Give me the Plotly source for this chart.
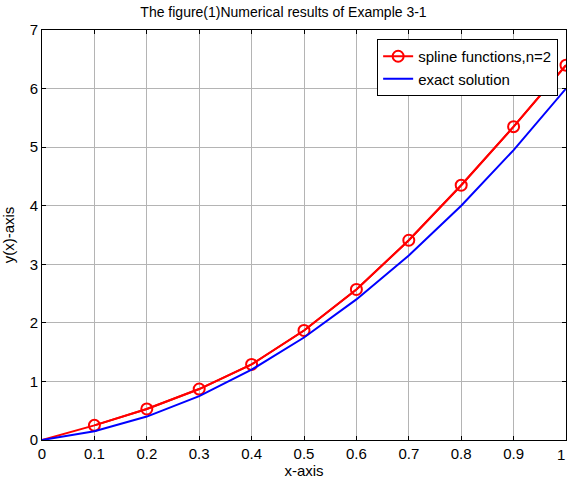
import plotly.graph_objects as go

x_vals = [0, 0.1, 0.2, 0.3, 0.4, 0.5, 0.6, 0.7, 0.8, 0.9, 1.0]
spline_vals = [0, 0.25, 0.53, 0.87, 1.29, 1.87, 2.57, 3.41, 4.35, 5.35, 6.40]
exact_vals = [0, 0.15, 0.40, 0.75, 1.20, 1.75, 2.40, 3.15, 4.00, 4.95, 6.00]
x_ticks = [0, 0.1, 0.2, 0.3, 0.4, 0.5, 0.6, 0.7, 0.8, 0.9, 1]
x_tick_text = ["0", "0.1", "0.2", "0.3", "0.4", "0.5", "0.6", "0.7", "0.8", "0.9", "1"]
y_ticks = [0, 1, 2, 3, 4, 5, 6, 7]

FONT = "Liberation Sans, Arial, sans-serif"

fig = go.Figure()
# full red line (including the origin, which has no marker in the reference)
fig.add_trace(go.Scatter(
    x=x_vals, y=spline_vals, mode="lines", showlegend=False,
    line=dict(color="#ff0000", width=2), hoverinfo="skip",
))
fig.add_trace(go.Scatter(
    x=x_vals[1:], y=spline_vals[1:], mode="lines+markers", name="spline functions,n=2",
    line=dict(color="#ff0000", width=2),
    marker=dict(symbol="circle-open", size=11, color="#ff0000", line=dict(width=2)),
    cliponaxis=True,
))
fig.add_trace(go.Scatter(
    x=x_vals, y=exact_vals, mode="lines", name="exact solution",
    line=dict(color="#0000ff", width=2),
))

axis_common = dict(
    showline=True, linecolor="black", linewidth=1, mirror="ticks",
    ticks="inside", ticklen=4, tickcolor="black",
    showgrid=True, gridcolor="#b4b4b4", gridwidth=1,
    zeroline=False, automargin=False,
    tickfont=dict(family=FONT, size=15, color="black"),
)

fig.update_layout(
    width=567, height=484,
    paper_bgcolor="white", plot_bgcolor="white",
    margin=dict(l=42, r=1, t=30, b=44, pad=0),
    font=dict(family=FONT, size=15, color="black"),
    title=dict(text="The figure(1)Numerical results of Example 3-1",
               x=0.5, xanchor="center", y=0.975, yanchor="middle",
               font=dict(family=FONT, size=14, color="black")),
    xaxis=dict(range=[0, 1], tickvals=x_ticks, ticktext=x_tick_text[:-1] + [""],
               title=dict(text="x-axis", standoff=0, font=dict(family=FONT, size=15)),
               **axis_common),
    yaxis=dict(range=[0, 7], tickvals=y_ticks,
               title=dict(text="y(x)-axis", standoff=13, font=dict(family=FONT, size=15)),
               **axis_common),
    legend=dict(x=0.985, y=0.978, xanchor="right", yanchor="top",
                bgcolor="white", bordercolor="black", borderwidth=1,
                font=dict(family=FONT, size=15, color="black"),
                tracegroupgap=0),
    showlegend=True,
)

# last tick label, kept inside the page at the right edge
fig.add_annotation(x=x_ticks[-1], xref="x", y=0, yref="paper", text=x_tick_text[-1],
                   showarrow=False, xanchor="right", yanchor="top", yshift=-4, xshift=1,
                   font=dict(family=FONT, size=15, color="black"))

fig.write_html("out.html", post_script="document.body.style.margin='0';",
               config={"displayModeBar": False})
